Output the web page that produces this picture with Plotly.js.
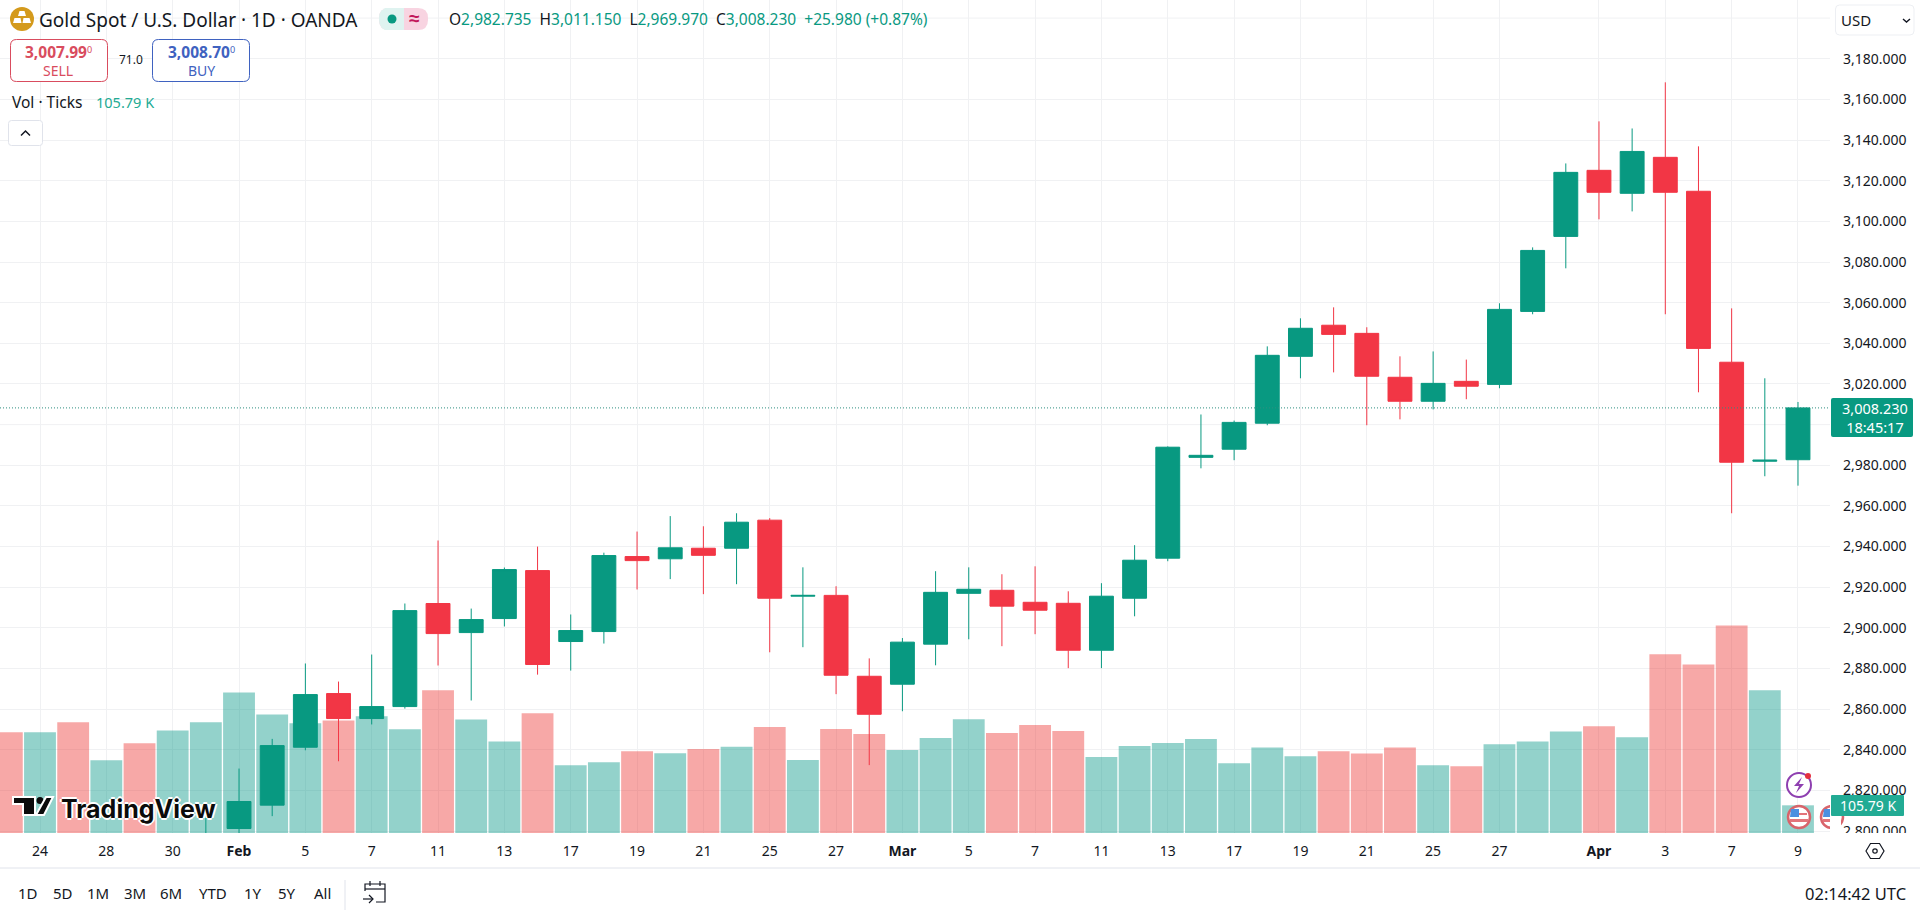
<!DOCTYPE html>
<html>
<head>
<meta charset="utf-8">
<script src="https://cdn.plot.ly/plotly-3.0.1.min.js"></script>
<style>
  html, body { margin: 0; padding: 0; background: #fff; overflow: hidden; }
  #chart { width: 1920px; height: 912px; }
</style>
</head>
<body>
<div id="chart"></div>
<script>
// trading days on the x axis
const days = ['Jan 23','Jan 24','Jan 27','Jan 28','Jan 29','Jan 30','Jan 31',
  'Feb 3','Feb 4','Feb 5','Feb 6','Feb 7','Feb 10','Feb 11','Feb 12','Feb 13','Feb 14',
  'Feb 17','Feb 18','Feb 19','Feb 20','Feb 21','Feb 24','Feb 25','Feb 26','Feb 27','Feb 28',
  'Mar 3','Mar 4','Mar 5','Mar 6','Mar 7','Mar 10','Mar 11','Mar 12','Mar 13','Mar 14',
  'Mar 17','Mar 18','Mar 19','Mar 20','Mar 21','Mar 24','Mar 25','Mar 26','Mar 27','Mar 28','Mar 31',
  'Apr 1','Apr 2','Apr 3','Apr 4','Apr 7','Apr 8','Apr 9'];

// volume in thousands of ticks, d = down day, u = up day
const volumes = [385,385,423,278,343,392,423,537,453,419,430,446,396,545,434,350,457,
  259,270,312,305,321,329,405,279,397,378,317,363,435,382,413,390,290,332,344,359,
  266,327,293,312,304,327,259,255,339,350,388,408,366,683,644,793,545,105.79];
const volumeDirs = ['d','u','d','u','d','u','u','u','u','u','d','u','u','d','u','u','d',
  'u','u','d','u','d','u','d','u','d','d','u','u','u','d','d','d','u','u','u','u',
  'u','u','u','d','d','d','u','d','u','u','u','d','u','d','d','d','u','u'];

// candles start at Jan 31, earlier ones are below the visible range
const candleDays = days.slice(6);
const opens = [2790,2801.3,2812.8,2841.3,2867.7,2855.4,2861.3,2912,2897.7,2904.6,2928.2,
  2893.3,2898.2,2935.1,2934,2939.2,2939.2,2953,2915.6,2916,2876.2,
  2872.3,2892,2917,2918.5,2912.6,2912.1,2889,2914.6,2934.3,2983.9,
  2987.9,3000.7,3033.6,3048.9,3044.9,3023.3,3011.5,3021.3,3019.8,3055.7,3092.6,
  3125.1,3113.8,3131.5,3114.8,3030.7,2982,2982.735];
const highs = [2810,2830.8,2845.4,2882.5,2873.6,2886.9,2912,2943,2909.5,2929.7,2940,
  2906.6,2937,2947.4,2955,2950,2956.4,2954,2929.8,2920.5,2885,
  2895,2927.9,2929.8,2926.4,2930.3,2918,2922,2940.7,2989.3,3005,
  3002,3038.5,3052.3,3057.7,3047.9,3033.6,3036,3032,3059.7,3087.2,3128.5,
  3149.2,3145.7,3168.4,3136.9,3057.2,3022.8,3011.15];
const lows = [2780,2797,2807.4,2839.8,2834.4,2852.5,2860.3,2881.5,2864.3,2900.7,2877,
  2879,2892.3,2918.9,2924,2916.6,2921.5,2888,2890.5,2867.4,2832.5,
  2859,2881.6,2894.4,2891,2896.9,2880.2,2880.2,2905.7,2932.8,2978.5,
  2982.5,2999.7,3022.8,3025.7,2999.7,3002.6,3007.5,3012.5,3017.9,3054.3,3076.9,
  3101,3104.9,3054.3,3015.9,2956.4,2974.6,2969.97];
const closes = [2795,2814.6,2842.1,2867.2,2855.4,2861.3,2908.5,2897.2,2904.1,2928.7,2882,
  2898.7,2935.6,2933.1,2939.4,2935.7,2952,2914.6,2916,2876.7,2857.5,
  2893,2917.5,2919,2910.7,2908.7,2889,2915.6,2933.3,2988.9,2984.9,
  3001.1,3034.1,3047.4,3044.4,3023.8,3011.5,3020.3,3018.9,3056.7,3085.7,3124.1,
  3114.3,3134.4,3114.3,3037.5,2981.5,2982.5,3008.23];

// axis labels
const xTickDays = ['Jan 24','Jan 28','Jan 30','Feb 3','Feb 5','Feb 7','Feb 11','Feb 13','Feb 17','Feb 19','Feb 21','Feb 25','Feb 27',
  'Mar 3','Mar 5','Mar 7','Mar 11','Mar 13','Mar 17','Mar 19','Mar 21','Mar 25','Mar 27','Apr 1','Apr 3','Apr 7','Apr 9'];
const xTickLabels = ['24','28','30','<b>Feb</b>','5','7','11','13','17','19','21','25','27',
  '<b>Mar</b>','5','7','11','13','17','19','21','25','27','<b>Apr</b>','3','7','9'];
const priceTicks = [2800,2820,2840,2860,2880,2900,2920,2940,2960,2980,3020,3040,3060,3080,3100,3120,3140,3160,3180];
const priceTickLabels = priceTicks.map(p => p.toLocaleString('en-US', {minimumFractionDigits: 3}));
// these two have a grid line but their label is hidden behind a tag or the currency box
const priceGridOnly = [3000,3200];

const rangeButtons = ['1D','5D','1M','3M','6M','YTD','1Y','5Y','All'];
const rangeButtonX = [28,63,98,135,171,213,253,287,322];

const TEAL = '#089981', RED = '#F23645', INK = '#131722', GRID = '#F0F1F3';
const FONT = '"Noto Sans", sans-serif';
const W = 1920, H = 912, PLOT_W = 1830, PLOT_H = 833;

// chrome is positioned in screen pixels, converted here to paper coords
const px = x => x / PLOT_W;
const py = y => 1 - y / PLOT_H;

function note(x, y, text, size, color, anchor) {
  return {xref: 'paper', yref: 'paper', x: px(x), y: py(y), text: text, showarrow: false,
    xanchor: anchor || 'left', yanchor: 'middle', borderpad: 0,
    font: {family: FONT, size: size, color: color || INK}};
}

function box(x0, y0, x1, y1, r, stroke, fill, width) {
  const a = px(x0), b = px(x1), c = py(y0), d = py(y1), rx = px(r), ry = r / PLOT_H;
  return {type: 'path', xref: 'paper', yref: 'paper', layer: 'above',
    path: `M${a + rx},${c} L${b - rx},${c} Q${b},${c} ${b},${c - ry} L${b},${d + ry} Q${b},${d} ${b - rx},${d} ` +
          `L${a + rx},${d} Q${a},${d} ${a},${d + ry} L${a},${c - ry} Q${a},${c} ${a + rx},${c} Z`,
    line: {color: stroke || 'rgba(0,0,0,0)', width: width === undefined ? 1 : width},
    fillcolor: fill || 'rgba(0,0,0,0)'};
}

function dot(cx, cy, r, fill, stroke, width) {
  return {type: 'circle', xref: 'paper', yref: 'paper', layer: 'above',
    x0: px(cx - r), x1: px(cx + r), y0: py(cy + r), y1: py(cy - r),
    fillcolor: fill, line: {color: stroke || 'rgba(0,0,0,0)', width: width || 0}};
}

function poly(points, fill, stroke, width) {
  const d = points.map((p, i) => (i ? 'L' : 'M') + px(p[0]) + ',' + py(p[1])).join(' ');
  return {type: 'path', xref: 'paper', yref: 'paper', layer: 'above', path: d + (fill ? ' Z' : ''),
    fillcolor: fill || 'rgba(0,0,0,0)', line: {color: stroke || 'rgba(0,0,0,0)', width: width || 0}};
}

function flag(cx, cy) {
  return [
    dot(cx, cy, 11, '#fff', '#D8646B', 2.5),
    poly([[cx - 8, cy - 4], [cx + 8, cy - 4], [cx + 8, cy - 2], [cx - 8, cy - 2]], '#E3747A'),
    poly([[cx - 9, cy + 2], [cx + 9, cy + 2], [cx + 9, cy + 5], [cx - 9, cy + 5]], '#E3747A'),
    poly([[cx - 8, cy - 8], [cx, cy - 8], [cx, cy], [cx - 9, cy]], '#4C8FE0')
  ];
}

const shapes = [
  // grid lines without a label
  ...priceGridOnly.map(p => ({type: 'line', xref: 'paper', yref: 'y2', x0: 0, x1: 1, y0: p, y1: p, layer: 'below',
    line: {color: GRID, width: 1}})),
  // last price line
  {type: 'line', xref: 'paper', yref: 'y2', x0: 0, x1: 1, y0: closes[closes.length - 1], y1: closes[closes.length - 1],
    line: {color: '#2f8f80', width: 1, dash: '1px,2px'}, layer: 'above'},
  // event icons
  ...flag(1832, 817),
  box(1830, 800, 1841, 832, 0, null, '#fff', 0),
  ...flag(1799, 817),
  dot(1799, 785, 12, '#fff', '#8E3FB0', 2),
  poly([[1802, 777], [1794, 786], [1799, 786], [1796, 793], [1804, 784], [1799, 784]], '#8E3FB0'),
  dot(1808, 776, 3, '#E5303F'),
  // covers the lower half of the 2,800 label, the pane ends there
  box(1830, 833, W, 867, 0, null, '#fff', 0),
  // separator above the bottom toolbar
  poly([[0, 868], [W, 868]], null, '#E0E3EB', 1),
  poly([[345, 880], [345, 910]], null, '#E0E3EB', 1),
  // calendar icon
  poly([[365, 891], [365, 884], [385, 884], [385, 902], [376, 902]], null, INK, 1.2),
  poly([[365, 889], [385, 889]], null, INK, 1.2),
  poly([[370, 881], [370, 886]], null, INK, 1.2),
  poly([[380, 881], [380, 886]], null, INK, 1.2),
  poly([[363, 899], [373, 899]], null, INK, 1.2),
  poly([[369, 895], [373, 899], [369, 903]], null, INK, 1.2),
  // gear icon
  poly([[1866, 851], [1870.5, 843.5], [1879.5, 843.5], [1884, 851], [1879.5, 858.5], [1870.5, 858.5]], 'rgba(255,255,255,0)', INK, 1.2),
  dot(1875, 851, 2.2, '#fff', INK, 1.2),
  // symbol icon and status pill
  dot(22, 19, 12, '#D49A1C'),
  poly([[19.5, 11], [24.5, 11], [26, 16], [18, 16]], '#fff'),
  poly([[14.5, 18], [20.5, 18], [21.5, 23], [13, 23]], '#fff'),
  poly([[23.5, 18], [29.5, 18], [31, 23], [22.5, 23]], '#fff'),
  box(379, 8, 428, 30, 10, null, '#F8D4E1', 0),
  box(379, 8, 392, 30, 10, null, '#DFF3F0', 0),
  box(385, 8, 404, 30, 0, null, '#DFF3F0', 0),
  dot(392, 19, 4.5, TEAL),
  // sell / buy boxes
  box(10.5, 39.5, 107.5, 81.5, 6, '#D94C5E', '#fff'),
  box(152.5, 39.5, 249.5, 81.5, 6, '#3F62C0', '#fff'),
  // collapse button
  box(8.5, 120.5, 42.5, 145.5, 3, '#E0E3EB', '#fff'),
  poly([[21, 135.5], [25.5, 131], [30, 135.5]], null, INK, 1.5),
  // currency box
  box(1835.5, 5, 1914, 35, 4, '#EDEFF3', '#fff'),
  poly([[1903, 19], [1906.5, 22], [1910, 19]], null, INK, 1.4),
  // price and volume tags
  box(1831, 398, 1913, 437, 2, null, TEAL, 0),
  box(1831, 795, 1904, 816, 1, null, '#22AB94', 0),
  // watermark logo
  poly([[13, 797], [35, 797], [35, 815], [23, 815], [23, 804], [13, 804]], '#0b0b0b', '#fff', 2),
  dot(40, 800.5, 3.5, '#0b0b0b'),
  poly([[46, 797], [53, 797], [44, 815], [36, 815]], '#0b0b0b', '#fff', 2)
];

const annotations = [
  note(37.5, 20, 'Gold Spot / U.S. Dollar · 1D · OANDA', 19, INK),
  note(414, 18, '<b>≈</b>', 19, '#C2185B', 'center'),
  note(448, 19, 'O<span style="color:#089981">2,982.735</span>\u00A0 H<span style="color:#089981">3,011.150</span>\u00A0 L<span style="color:#089981">2,969.970</span>\u00A0 C<span style="color:#089981">3,008.230</span>\u00A0 <span style="color:#089981">+25.980 (+0.87%)</span>', 15.5, INK),
  note(59, 52, '<b>3,007.99</b><span style="font-size:13px"><sup>0</sup></span>', 15.5, '#D94C5E', 'center'),
  note(58, 70, 'SELL', 14, '#D94C5E', 'center'),
  note(130.5, 60, '71.0', 12, INK, 'center'),
  note(201, 52, '<b>3,008.70</b><span style="font-size:13px"><sup>0</sup></span>', 15.5, '#3F62C0', 'center'),
  note(201, 70, 'BUY', 14, '#3F62C0', 'center'),
  note(11, 102, 'Vol · Ticks', 15.5, INK),
  note(95, 102, '105.79 K', 14.5, '#22AB94'),
  note(1840, 20, 'USD', 15, INK),
  note(1875, 417.5, '3,008.230<br>18:45:17', 14.5, '#fff', 'center'),
  note(1867.5, 805.5, '105.79 K', 14, '#fff', 'center'),
  note(1907, 893, '02:14:42 UTC', 16.5, INK, 'right'),
  {...note(60, 809, 'TradingView', 25, '#0b0b0b'), font: {family: 'Inter, sans-serif', size: 25, color: '#0b0b0b', weight: 700,
    shadow: '2px 0 0 #fff, -2px 0 0 #fff, 0 2px 0 #fff, 0 -2px 0 #fff'}}
].concat(rangeButtons.map((b, i) => note(rangeButtonX[i], 893, b, 15, INK, 'center')));

const traces = [
  {type: 'bar', x: days, y: volumes, yaxis: 'y', xaxis: 'x', showlegend: false, hoverinfo: 'skip',
    marker: {color: volumeDirs.map(d => d === 'u' ? 'rgba(4,150,134,0.43)' : 'rgba(236,53,50,0.43)'), line: {width: 0}}},
  {type: 'candlestick', x: candleDays, open: opens, high: highs, low: lows, close: closes, yaxis: 'y2', xaxis: 'x',
    showlegend: false, hoverinfo: 'skip', whiskerwidth: 0,
    increasing: {line: {color: TEAL, width: 1}, fillcolor: TEAL},
    decreasing: {line: {color: RED, width: 1}, fillcolor: RED}}
];

const layout = {
  width: W, height: H,
  margin: {l: 0, r: W - PLOT_W, t: 0, b: H - PLOT_H, pad: 0},
  paper_bgcolor: '#fff', plot_bgcolor: '#fff',
  font: {family: FONT, color: INK},
  showlegend: false, hovermode: false, dragmode: false,
  bargap: 0.04, boxgap: 0.28, boxgroupgap: 0,
  xaxis: {type: 'category', categoryorder: 'array', categoryarray: days, range: [-0.206, 54.965],
    tickmode: 'array', tickvals: xTickDays, ticktext: xTickLabels,
    tickfont: {family: FONT, size: 14, color: INK}, ticks: '', ticklabelstandoff: 8,
    showgrid: true, gridcolor: GRID, gridwidth: 1, zeroline: false, showline: false,
    rangeslider: {visible: false}, fixedrange: true},
  yaxis: {range: [0, PLOT_H * 3.82], visible: false, fixedrange: true},
  yaxis2: {overlaying: 'y', side: 'right', anchor: 'x', range: [2799.1, 3208.9],
    tickmode: 'array', tickvals: priceTicks, ticktext: priceTickLabels,
    tickfont: {family: FONT, size: 14, color: INK}, ticks: '', ticklabelstandoff: 12,
    showgrid: true, gridcolor: GRID, gridwidth: 1, zeroline: false, showline: false, fixedrange: true},
  shapes: shapes,
  annotations: annotations
};

Plotly.newPlot('chart', traces, layout, {displayModeBar: false, responsive: false, staticPlot: true});
</script>
</body>
</html>
